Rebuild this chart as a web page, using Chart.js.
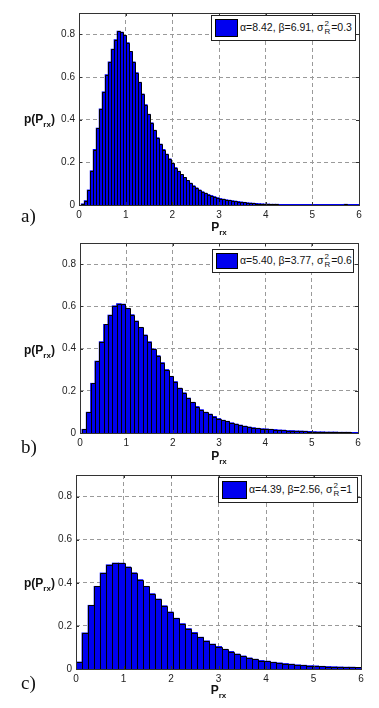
<!DOCTYPE html>
<html>
<head>
<meta charset="utf-8">
<script src="https://cdn.jsdelivr.net/npm/chart.js@4.4.1/dist/chart.umd.min.js"></script>
<style>
  html, body { margin: 0; padding: 0; background: #fff; }
  body { width: 379px; height: 708px; position: relative; overflow: hidden;
         font-family: "Liberation Sans", Arial, sans-serif; color: #111; }
  canvas { position: absolute; left: 0; }
  .ylab, .xlab { position: absolute; font-weight: bold; font-size: 12px; white-space: nowrap; }
  .xlab { transform: translateX(-50%); }
  .ylab sub, .xlab sub { font-size: 8px; vertical-align: -4px; }
  .tag { position: absolute; font-family: "Liberation Serif", "Times New Roman", serif; font-size: 19px; }
  .legend { position: absolute; background: #fff; border: 1px solid #222; box-sizing: border-box;
            display: flex; align-items: center; font-size: 10.5px; white-space: nowrap; }
  .swatch { display: inline-block; background: #0000f0; border: 1px solid #000; box-sizing: border-box;
            margin: 0 2px 0 3px; }
  .ss { display: inline-flex; flex-direction: column; vertical-align: middle; font-size: 8px;
        line-height: 8px; margin: 0 1px; }
</style>
</head>
<body>
<canvas id="chartA" width="379" height="240"></canvas>
<canvas id="chartB" width="379" height="240"></canvas>
<canvas id="chartC" width="379" height="248"></canvas>

<script>
// Histogram data: bin start, bin width and density per bin
const xTicks = [0, 1, 2, 3, 4, 5, 6];
const yTicks = [0, 0.2, 0.4, 0.6, 0.8];

const alphas = ["8.42", "5.40", "4.39"];
const betas = ["6.91", "3.77", "2.56"];
const sigmaR2 = ["0.3", "0.6", "1"];
const panelTags = ["a)", "b)", "c)"];

const binStartA = 0.05;
const binWidthA = 0.064;
const densityA = [
  0.005, 0.02, 0.07, 0.16, 0.26, 0.36, 0.45, 0.53, 0.61, 0.67,
  0.73, 0.775, 0.815, 0.81, 0.795, 0.76, 0.72, 0.67, 0.62, 0.575,
  0.52, 0.47, 0.425, 0.385, 0.35, 0.315, 0.285, 0.26, 0.238, 0.216,
  0.195, 0.175, 0.158, 0.143, 0.129, 0.115, 0.102, 0.09, 0.08, 0.07,
  0.062, 0.055, 0.049, 0.044, 0.039, 0.034, 0.03, 0.027, 0.024, 0.022,
  0.02, 0.018, 0.016, 0.014, 0.012, 0.01, 0.009, 0.008, 0.007, 0.006,
  0.005, 0.004, 0.004, 0.003, 0.003, 0.003, 0.002, 0.002, 0.002, 0.002,
  0.001, 0.001, 0.001, 0.001, 0.001, 0.001, 0.001, 0.001, 0.001, 0.001,
  0.001, 0.001, 0.001, 0.001, 0.001, 0.001, 0.001, 0.001, 0.003, 0.001,
  0.001, 0.001, 0.001
];

const binStartB = 0.043;
const binWidthB = 0.0935;
const densityB = [
  0.017, 0.098, 0.235, 0.34, 0.432, 0.514, 0.558, 0.602, 0.612, 0.61,
  0.59, 0.56, 0.53, 0.5, 0.464, 0.432, 0.398, 0.366, 0.333, 0.3,
  0.268, 0.243, 0.212, 0.19, 0.165, 0.145, 0.125, 0.11, 0.098, 0.089,
  0.078, 0.068, 0.06, 0.055, 0.048, 0.042, 0.037, 0.032, 0.028, 0.025,
  0.022, 0.02, 0.019, 0.017, 0.016, 0.014, 0.013, 0.011, 0.011, 0.0095,
  0.009, 0.008, 0.007, 0.006, 0.005, 0.005, 0.004, 0.004, 0.004, 0.003,
  0.003, 0.003, 0.002, 0.002
];

const binStartC = 0;
const binWidthC = 0.12766;
const densityC = [
  0.032, 0.167, 0.295, 0.383, 0.445, 0.483, 0.491, 0.491, 0.473, 0.446,
  0.414, 0.383, 0.349, 0.324, 0.293, 0.264, 0.235, 0.21, 0.187, 0.169,
  0.147, 0.13, 0.115, 0.104, 0.091, 0.081, 0.069, 0.06, 0.051, 0.045,
  0.039, 0.036, 0.031, 0.028, 0.025, 0.022, 0.019, 0.017, 0.015, 0.014,
  0.012, 0.011, 0.01, 0.009, 0.008, 0.008, 0.007
];

// Layout of the three panels (page pixels)
const panels = [
  { id: "chartA", top: 0, height: 240, area: { left: 79, top: 13, right: 359, bottom: 205 },
    start: binStartA, width: binWidthA, values: densityA,
    legend: { left: 211, top: 15, w: 145, h: 26, sw: 23, sh: 18 }, ylabTop: 112, xlabTop: 220, tagTop: 205 },
  { id: "chartB", top: 230, height: 240, area: { left: 80, top: 13, right: 358, bottom: 203 },
    start: binStartB, width: binWidthB, values: densityB,
    legend: { left: 212, top: 19, w: 142, h: 24, sw: 22, sh: 16 }, ylabTop: 113, xlabTop: 219, tagTop: 206 },
  { id: "chartC", top: 460, height: 248, area: { left: 76, top: 15, right: 361, bottom: 209 },
    start: binStartC, width: binWidthC, values: densityC,
    legend: { left: 218, top: 17, w: 140, h: 26, sw: 25, sh: 18 }, ylabTop: 116, xlabTop: 223, tagTop: 212 },
];

const tickFont = { family: "'Liberation Sans', Arial, sans-serif", size: 10 };

// Crisp black outline for every bar, taken from the bar elements Chart.js laid out
const barEdges = {
  id: "barEdges",
  afterDatasetsDraw(chart) {
    const { ctx, chartArea: a } = chart;
    const bars = chart.getDatasetMeta(0).data;
    ctx.save();
    ctx.beginPath();
    ctx.rect(a.left, a.top, a.right - a.left, a.bottom - a.top);
    ctx.clip();
    ctx.strokeStyle = "#000";
    ctx.lineWidth = 1;
    ctx.beginPath();
    bars.forEach((b) => {
      const l = Math.round(b.x - b.width / 2) + 0.5;
      const r = Math.round(b.x + b.width / 2) + 0.5;
      const t = Math.round(b.y) + 0.5;
      const base = Math.round(b.base);
      ctx.moveTo(l, base);
      ctx.lineTo(l, t);
      ctx.lineTo(r, t);
      ctx.lineTo(r, base);
    });
    ctx.stroke();
    ctx.restore();
  },
};

// Axes box with inward tick marks, like the original plot
const frameBox = {
  id: "frameBox",
  afterDraw(chart) {
    const { ctx, chartArea: a, scales } = chart;
    ctx.save();
    ctx.strokeStyle = "#333";
    ctx.lineWidth = 1;
    ctx.beginPath();
    xTicks.forEach((v) => {
      const px = Math.round(scales.x.getPixelForValue(v)) + 0.5;
      ctx.moveTo(px, a.bottom); ctx.lineTo(px, a.bottom - 3);
      ctx.moveTo(px, a.top); ctx.lineTo(px, a.top + 3);
    });
    yTicks.forEach((v) => {
      const py = Math.round(scales.y.getPixelForValue(v)) + 0.5;
      ctx.moveTo(a.left, py); ctx.lineTo(a.left + 3, py);
      ctx.moveTo(a.right, py); ctx.lineTo(a.right - 3, py);
    });
    ctx.stroke();
    ctx.strokeRect(Math.round(a.left) + 0.5, Math.round(a.top) + 0.5,
      Math.round(a.right - a.left), Math.round(a.bottom - a.top));
    ctx.restore();
  },
};

const buildPanel = (p, idx) => {
  const canvas = document.getElementById(p.id);
  canvas.style.top = p.top + "px";

  const points = p.values.map((v, i) => ({ x: p.start + (i + 0.5) * p.width, y: v }));

  new Chart(canvas.getContext("2d"), {
    type: "bar",
    data: {
      datasets: [
        {
          data: points,
          backgroundColor: "#0000f0",
          borderWidth: 0,
          inflateAmount: 0.5,
          barPercentage: 1,
          categoryPercentage: 1,
        },
      ],
    },
    options: {
      responsive: false,
      animation: false,
      events: [],
      layout: { padding: { left: 0, top: p.area.top, right: 379 - p.area.right, bottom: 0 } },
      plugins: { legend: { display: false }, tooltip: { enabled: false } },
      scales: {
        x: {
          type: "linear",
          min: 0,
          max: 6,
          offset: false,
          grid: { offset: false, color: "#9a9a9a", drawTicks: false },
          border: { display: false, dash: [4, 3] },
          ticks: { stepSize: 1, padding: 4, font: tickFont, color: "#222" },
          afterFit: (axis) => { axis.height = p.height - p.area.bottom; },
        },
        y: {
          min: 0,
          max: 0.9,
          grid: { color: "#9a9a9a", drawTicks: false },
          border: { display: false, dash: [4, 3] },
          ticks: { padding: 4, font: tickFont, color: "#222", callback: (v) => String(+v.toFixed(1)) },
          afterBuildTicks: (axis) => { axis.ticks = yTicks.map((v) => ({ value: v })); },
          afterFit: (axis) => { axis.width = p.area.left; },
        },
      },
    },
    plugins: [barEdges, frameBox],
  });

  // Text overlays: axis titles, legend and panel tag
  const ylab = document.createElement("div");
  ylab.className = "ylab";
  ylab.style.left = "24px";
  ylab.style.top = p.top + p.ylabTop + "px";
  ylab.innerHTML = "p(P<sub>rx</sub>)";
  document.body.appendChild(ylab);

  const xlab = document.createElement("div");
  xlab.className = "xlab";
  xlab.style.left = (p.area.left + p.area.right) / 2 + "px";
  xlab.style.top = p.top + p.xlabTop + "px";
  xlab.innerHTML = "P<sub>rx</sub>";
  document.body.appendChild(xlab);

  const tag = document.createElement("div");
  tag.className = "tag";
  tag.style.left = "21px";
  tag.style.top = p.top + p.tagTop + "px";
  tag.textContent = panelTags[idx];
  document.body.appendChild(tag);

  const lg = p.legend;
  const legend = document.createElement("div");
  legend.className = "legend";
  legend.style.left = lg.left + "px";
  legend.style.top = p.top + lg.top + "px";
  legend.style.width = lg.w + "px";
  legend.style.height = lg.h + "px";
  legend.innerHTML =
    `<span class="swatch" style="width:${lg.sw}px;height:${lg.sh}px"></span>` +
    `<span>α=${alphas[idx]}, β=${betas[idx]}, σ<span class="ss"><span>2</span><span>R</span></span>=${sigmaR2[idx]}</span>`;
  document.body.appendChild(legend);
};

panels.forEach(buildPanel);
</script>
</body>
</html>
